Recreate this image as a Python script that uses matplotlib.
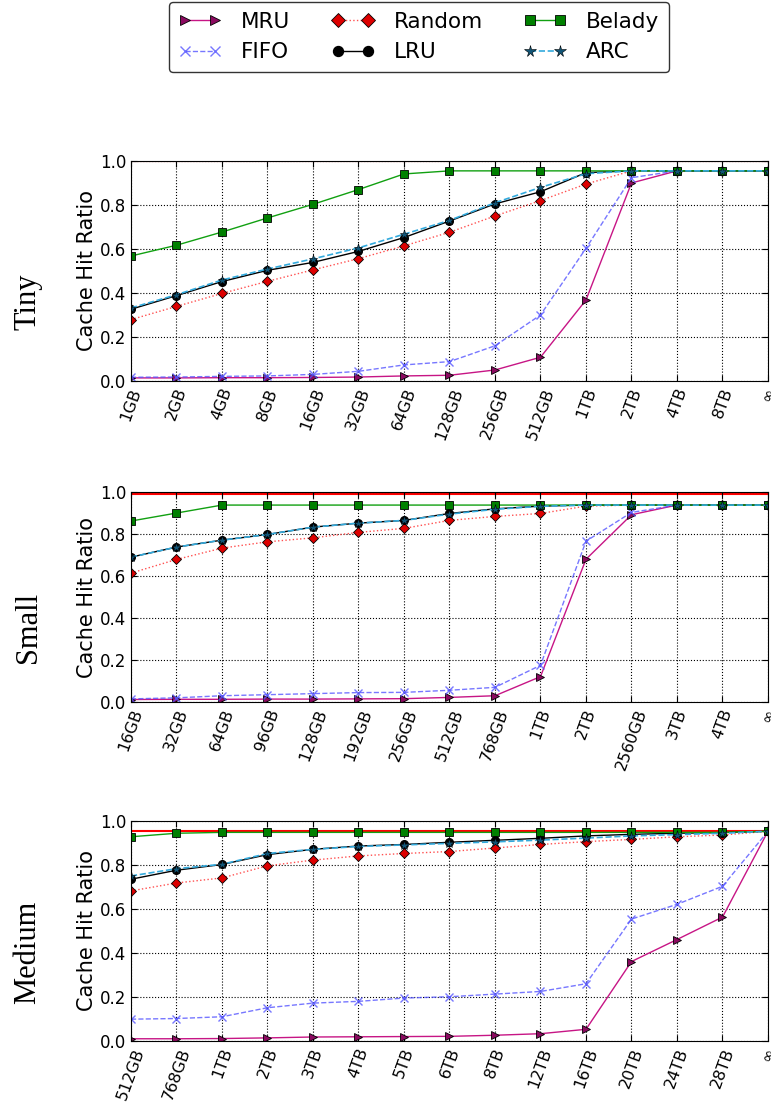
"""Cache hit ratio vs cache size for three trace sizes"""
import matplotlib
matplotlib.use('Agg')
import matplotlib.pyplot as plt

# x tick labels per panel
tiny_labels = ['1GB', '2GB', '4GB', '8GB', '16GB', '32GB', '64GB', '128GB',
               '256GB', '512GB', '1TB', '2TB', '4TB', '8TB', '∞']
small_labels = ['16GB', '32GB', '64GB', '96GB', '128GB', '192GB', '256GB',
                '512GB', '768GB', '1TB', '2TB', '2560GB', '3TB', '4TB', '∞']
medium_labels = ['512GB', '768GB', '1TB', '2TB', '3TB', '4TB', '5TB', '6TB',
                 '8TB', '12TB', '16TB', '20TB', '24TB', '28TB', '∞']

# Tiny
tiny_mru = [0.014, 0.014, 0.015, 0.015, 0.016, 0.018, 0.023, 0.026, 0.05, 0.108,
            0.368, 0.90, 0.955, 0.955, 0.955]
tiny_fifo = [0.017, 0.018, 0.021, 0.023, 0.03, 0.044, 0.073, 0.088, 0.16, 0.30,
             0.603, 0.924, 0.955, 0.955, 0.955]
tiny_random = [0.279, 0.339, 0.398, 0.453, 0.505, 0.556, 0.614, 0.676, 0.75, 0.82,
               0.895, 0.955, 0.955, 0.955, 0.955]
tiny_lru = [0.326, 0.388, 0.452, 0.503, 0.539, 0.589, 0.652, 0.727, 0.805, 0.86,
            0.947, 0.955, 0.955, 0.955, 0.955]
tiny_belady = [0.568, 0.617, 0.677, 0.741, 0.803, 0.870, 0.941, 0.955, 0.955, 0.955,
               0.955, 0.955, 0.955, 0.955, 0.955]
tiny_arc = [0.332, 0.392, 0.459, 0.509, 0.555, 0.605, 0.667, 0.73, 0.81, 0.88,
            0.942, 0.955, 0.955, 0.955, 0.955]
tiny_limit = 0.999

# Small
small_mru = [0.012, 0.013, 0.013, 0.014, 0.014, 0.015, 0.016, 0.022, 0.03, 0.121,
             0.68, 0.892, 0.938, 0.938, 0.938]
small_fifo = [0.015, 0.02, 0.03, 0.035, 0.04, 0.045, 0.046, 0.056, 0.07, 0.175,
              0.766, 0.903, 0.938, 0.938, 0.938]
small_random = [0.614, 0.679, 0.733, 0.763, 0.782, 0.808, 0.827, 0.865, 0.884, 0.898,
                0.933, 0.938, 0.938, 0.938, 0.938]
small_lru = [0.69, 0.738, 0.771, 0.798, 0.833, 0.852, 0.865, 0.898, 0.92, 0.933,
             0.938, 0.938, 0.938, 0.938, 0.938]
small_belady = [0.862, 0.90, 0.938, 0.938, 0.938, 0.938, 0.938, 0.938, 0.938, 0.938,
                0.938, 0.938, 0.938, 0.938, 0.938]
small_arc = [0.69, 0.738, 0.771, 0.798, 0.833, 0.852, 0.865, 0.895, 0.918, 0.932,
             0.938, 0.938, 0.938, 0.938, 0.938]
small_limit = 0.989

# Medium
medium_mru = [0.01, 0.01, 0.011, 0.014, 0.018, 0.019, 0.02, 0.021, 0.026, 0.033,
              0.053, 0.361, 0.461, 0.563, 0.953]
medium_fifo = [0.099, 0.102, 0.11, 0.151, 0.172, 0.18, 0.195, 0.201, 0.213, 0.225,
               0.26, 0.554, 0.621, 0.703, 0.953]
medium_random = [0.682, 0.718, 0.741, 0.796, 0.822, 0.841, 0.852, 0.861, 0.877, 0.893,
                 0.906, 0.916, 0.928, 0.936, 0.953]
medium_lru = [0.735, 0.776, 0.802, 0.847, 0.871, 0.886, 0.893, 0.903, 0.912, 0.921,
              0.932, 0.939, 0.944, 0.947, 0.953]
medium_belady = [0.928, 0.944, 0.948, 0.948, 0.948, 0.948, 0.948, 0.948, 0.948, 0.948,
                 0.948, 0.948, 0.948, 0.948, 0.953]
medium_arc = [0.75, 0.783, 0.803, 0.852, 0.871, 0.884, 0.891, 0.898, 0.905, 0.913,
              0.922, 0.932, 0.938, 0.944, 0.953]
medium_limit = 0.956

panels = [
    ('Tiny', tiny_labels, tiny_mru, tiny_fifo, tiny_random, tiny_lru, tiny_belady, tiny_arc, tiny_limit),
    ('Small', small_labels, small_mru, small_fifo, small_random, small_lru, small_belady, small_arc, small_limit),
    ('Medium', medium_labels, medium_mru, medium_fifo, medium_random, medium_lru, medium_belady, medium_arc, medium_limit),
]

# axes boxes in figure fraction: left, bottom, width, height
boxes = [(0.1699, 0.6549, 0.8262, 0.1993),
         (0.1699, 0.3641, 0.8262, 0.1902),
         (0.1699, 0.0571, 0.8262, 0.1993)]
row_label_y = [1 - 302 / 1104, 1 - 627 / 1104, 1 - 952 / 1104]

fig = plt.figure(figsize=(7.71, 11.04), dpi=100)

handles = None
for (name, labels, mru, fifo, rnd, lru, bel, arc, limit), box, ly in zip(panels, boxes, row_label_y):
    ax = fig.add_axes(box)
    x = list(range(len(labels)))
    ax.axhline(limit, color='red', lw=1.5, zorder=1)
    h_mru, = ax.plot(x, mru, '-', color='#c71585', marker='>', ms=5.5,
                     mfc='#8b0a60', mec='black', mew=0.6, lw=1, label='MRU')
    h_fifo, = ax.plot(x, fifo, '--', color='#5555ff', alpha=0.8, marker='x', ms=5.5,
                      lw=1, label='FIFO')
    h_rnd, = ax.plot(x, rnd, ':', color='#ff5050', marker='D', ms=5.5,
                     mfc='#dd0000', mec='black', mew=0.6, lw=1, label='Random')
    h_lru, = ax.plot(x, lru, '-', color='black', marker='o', ms=5.5,
                     mfc='black', lw=1, label='LRU')
    h_bel, = ax.plot(x, bel, '-', color='#11a011', marker='s', ms=5.5,
                     mfc='#008000', mec='black', mew=0.6, lw=1, label='Belady')
    h_arc, = ax.plot(x, arc, '--', color='#33aadd', marker='*', ms=6.5,
                     mfc='#115577', mec='black', mew=0.4, lw=1.2, label='ARC')
    handles = [h_mru, h_fifo, h_rnd, h_lru, h_bel, h_arc]

    ax.set_xlim(0, len(labels) - 1)
    ax.set_ylim(0, 1.0)
    ax.set_xticks(x)
    ax.set_xticklabels(labels, rotation=70, ha='center', fontsize=11.5)
    ax.set_yticks([0.0, 0.2, 0.4, 0.6, 0.8, 1.0])
    ax.set_yticklabels(['0.0', '0.2', '0.4', '0.6', '0.8', '1.0'], fontsize=12)
    ax.tick_params(direction='in', top=True, right=True, length=4)
    ax.grid(True, linestyle=':', color='black', lw=0.8)
    ax.set_ylabel('Cache Hit Ratio', fontsize=15, labelpad=2)
    fig.text(28 / 771, ly, name, rotation=90, ha='center', va='center',
             fontsize=22, family='Liberation Serif')

fig.legend(handles, [h.get_label() for h in handles], ncol=3, numpoints=2,
           loc='upper center', bbox_to_anchor=(419 / 771, 1 - 2 / 1104),
           borderaxespad=0, fontsize=15.5, frameon=True, fancybox=True,
           edgecolor='black', markerscale=1.3, handlelength=2.0,
           handletextpad=0.9, columnspacing=1.9, labelspacing=0.5,
           borderpad=0.45)

plt.savefig('out.png', dpi=100)
plt.close()
